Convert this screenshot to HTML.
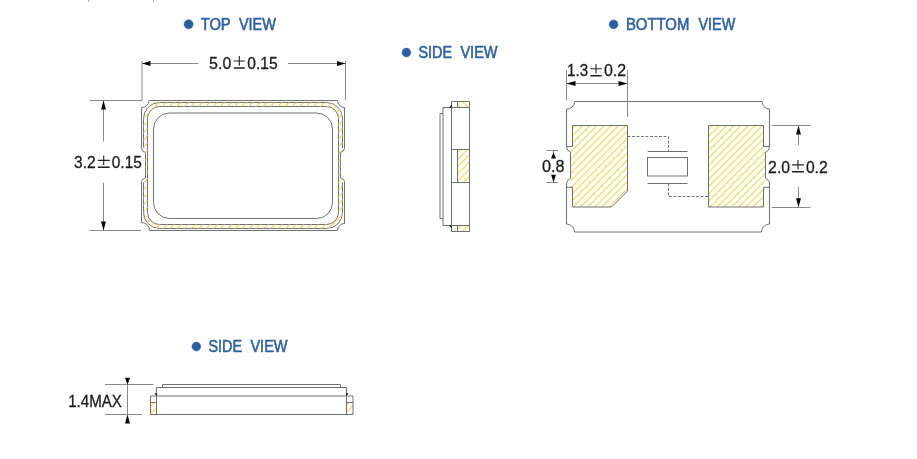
<!DOCTYPE html>
<html><head><meta charset="utf-8">
<style>
html,body{margin:0;padding:0;background:#fff;}
svg{display:block;will-change:transform;}
text{font-family:"Liberation Sans",sans-serif;}
</style></head><body>
<svg width="917" height="459" viewBox="0 0 917 459">
<defs>
<pattern id="h" patternUnits="userSpaceOnUse" width="5.091" height="20" patternTransform="rotate(45) translate(1.2 0)">
<rect x="-0.2" y="0" width="1.4" height="20" fill="#f3d650"/>
</pattern>
<pattern id="hs" patternUnits="userSpaceOnUse" width="5.091" height="20" patternTransform="rotate(45) translate(2.97 0)">
<rect x="-0.2" y="0" width="1.4" height="20" fill="#f3d650"/>
</pattern>
<pattern id="hb" patternUnits="userSpaceOnUse" width="5.091" height="20" patternTransform="rotate(-45) translate(0 0)">
<rect x="-0.2" y="0" width="1.4" height="20" fill="#f3d650"/>
</pattern>
<pattern id="hbot" patternUnits="userSpaceOnUse" width="5.091" height="20" patternTransform="rotate(45) translate(1.41 0)">
<rect x="-0.2" y="0" width="1.4" height="20" fill="#f3d650"/>
</pattern>
<clipPath id="cPkg">
<path d="M149 100.5 H337.5 A7 7 0 0 0 344.5 107.5 V148.2 Q344.5 151.5 340.5 152.5 V178 Q344.5 179 344.5 181.5 V223.5 A7 7 0 0 0 337.5 230.5 H149.5 A8 8 0 0 0 141.5 222.5 V181.5 Q141.5 179 145.5 178 V152.5 Q141.5 151.5 141.5 148.2 V107.5 A7.5 7 0 0 0 149 100.5 Z"/>
</clipPath>
<clipPath id="cBand">
<path fill-rule="evenodd" d="M159.5 102.5 H326.5 A16 16 0 0 1 342.5 118.5 V212.5 A16 16 0 0 1 326.5 228.5 H159.5 A16 16 0 0 1 143.5 212.5 V118.5 A16 16 0 0 1 159.5 102.5 Z M159.5 106.5 A12 12 0 0 0 147.5 118.5 V212.5 A12 12 0 0 0 159.5 224.5 H326.5 A12 12 0 0 0 338.5 212.5 V118.5 A12 12 0 0 0 326.5 106.5 Z"/>
</clipPath>
</defs>

<rect x="88" y="0" width="1" height="1.5" fill="#999"/><rect x="153" y="0" width="1" height="1.5" fill="#999"/>
<!-- ===== headings ===== -->
<g fill="#2a5fa8" stroke="#2a5fa8" stroke-width="0.55">
<circle cx="188.6" cy="24.3" r="4.5"/>
<text x="200.7" y="29.7" font-size="16" textLength="30" lengthAdjust="spacingAndGlyphs">TOP</text>
<text x="238.9" y="29.7" font-size="16" textLength="37.1" lengthAdjust="spacingAndGlyphs">VIEW</text>

<circle cx="406.4" cy="52.5" r="4.4"/>
<text x="418.4" y="58.2" font-size="16" textLength="33.6" lengthAdjust="spacingAndGlyphs">SIDE</text>
<text x="460.4" y="58.2" font-size="16" textLength="37.2" lengthAdjust="spacingAndGlyphs">VIEW</text>

<circle cx="613.6" cy="24.3" r="4.4"/>
<text x="625.9" y="29.7" font-size="16" textLength="63.5" lengthAdjust="spacingAndGlyphs">BOTTOM</text>
<text x="698.5" y="29.7" font-size="16" textLength="36.7" lengthAdjust="spacingAndGlyphs">VIEW</text>

<circle cx="196.3" cy="346.5" r="4.4"/>
<text x="208.4" y="352" font-size="16" textLength="33.6" lengthAdjust="spacingAndGlyphs">SIDE</text>
<text x="250.4" y="352" font-size="16" textLength="37.2" lengthAdjust="spacingAndGlyphs">VIEW</text>
</g>

<!-- ===== dimension texts ===== -->
<g fill="#1a1a1a" stroke="#1a1a1a" stroke-width="0.28">
<text x="209.1" y="68.6" font-size="16.3" textLength="22.2" lengthAdjust="spacingAndGlyphs">5.0</text>
<text x="247.3" y="68.6" font-size="16.3" textLength="30.4" lengthAdjust="spacingAndGlyphs">0.15</text>
<text x="74" y="168" font-size="16.3" textLength="21.6" lengthAdjust="spacingAndGlyphs">3.2</text>
<text x="111.8" y="168" font-size="16.3" textLength="30" lengthAdjust="spacingAndGlyphs">0.15</text>
<text x="567.1" y="76.4" font-size="16.3" textLength="21" lengthAdjust="spacingAndGlyphs">1.3</text>
<text x="603.9" y="76.4" font-size="16.3" textLength="22.2" lengthAdjust="spacingAndGlyphs">0.2</text>
<text x="541.9" y="172.4" font-size="16.3" textLength="22.6" lengthAdjust="spacingAndGlyphs">0.8</text>
<text x="768.1" y="172.5" font-size="16.3" textLength="22" lengthAdjust="spacingAndGlyphs">2.0</text>
<text x="805.9" y="172.5" font-size="16.3" textLength="21.8" lengthAdjust="spacingAndGlyphs">0.2</text>
<text x="68.2" y="406.8" font-size="16" textLength="53.7" lengthAdjust="spacingAndGlyphs">1.4MAX</text>
</g>
<g fill="none" stroke="#222">
<path stroke-width="1.1" d="M233.7 61 H244.8 M239.3 56.1 V65.7 M97.8 160.4 H109.7 M103.7 155.5 V165.1 M590.3 68.8 H601.7 M596 63.9 V73.5 M792.1 164.9 H803.9 M798 160 V169.6"/>
<path stroke-width="1.5" d="M233.7 67.9 H244.8 M97.8 167.3 H109.7 M590.3 75.7 H601.7 M792.1 171.8 H803.9"/>
</g>

<!-- ===== TOP VIEW ===== -->
<g fill="none" stroke="#707070" stroke-width="1">
<g stroke="#8a8a8a">
<!-- dimension 5.0 -->
<path d="M142 61 V100.5 H89.5 M345.5 61 V100"/>
<path d="M142 63.5 H198.5 M288 63.5 H345.5"/>
<!-- dimension 3.2 -->
<path d="M89.5 230.5 H141 M103.5 100.5 V141.6 M103.5 182.6 V230.5"/>
</g>
<!-- outer package outline -->
<path d="M149.5 100.5 H337.5 A7 7 0 0 0 344.5 107.5 V148.2 Q344.5 151.5 340.5 152.5 V178 Q344.5 179 344.5 181.5 V223.5 A7 7 0 0 0 337.5 230.5 H149.5 A8 8 0 0 0 141.5 222.5 V181.5 Q141.5 179 145.5 178 V152.5 Q141.5 151.5 141.5 148.2 V107.5 A7.5 7 0 0 0 149 100.5 Z"/>
<!-- band lines -->
<path d="M159.5 102.5 H326.5 A16 16 0 0 1 342.5 118.5 V148 M342.5 182 V212.5 A16 16 0 0 1 326.5 228.5 H159.5 A16 16 0 0 1 143.5 212.5 V182 M143.5 148 V118.5 A16 16 0 0 1 159.5 102.5"/>
<path d="M159.5 106.5 H326.5 A12 12 0 0 1 338.5 118.5 V212.5 A12 12 0 0 1 326.5 224.5 H159.5 A12 12 0 0 1 147.5 212.5 V118.5 A12 12 0 0 1 159.5 106.5 Z"/>
<!-- inner rect -->
<path d="M169.5 113 H316.5 A16 16 0 0 1 332.5 129 V202.5 A16 16 0 0 1 316.5 218.5 H169.5 A16 16 0 0 1 153.5 202.5 V129 A16 16 0 0 1 169.5 113 Z"/>
</g>
<g clip-path="url(#cPkg)"><rect x="140" y="100" width="206" height="132" fill="url(#h)" clip-path="url(#cBand)"/></g>
<g fill="#050505">
<path d="M142 63.5 L150.5 61.05 L150.5 65.95 Z"/>
<path d="M345.5 63.5 L337 61.05 L337 65.95 Z"/>
<path d="M103.5 100.5 L101.05 109.5 L105.95 109.5 Z"/>
<path d="M103.5 230.5 L101.05 221.5 L105.95 221.5 Z"/>
</g>

<!-- ===== SIDE VIEW (right) ===== -->
<rect x="457.5" y="101.5" width="12" height="6" fill="url(#hb)"/>
<rect x="457.5" y="149.5" width="12" height="33" fill="url(#hs)"/>
<rect x="457.5" y="225.5" width="12" height="6" fill="url(#hbot)"/>
<g fill="none" stroke="#707070" stroke-width="1">
<path d="M451.5 101.5 H469.5 V231.5 H451.5 Z M451.5 107.5 H443 V225.5 H469.5 M451.5 107.5 H469.5 M457.5 101.5 V107.5 M457.5 225.5 V231.5"/>
<path d="M443 113.5 H440 V218.5 H443"/>
<path d="M451.5 149.5 H469.5 M451.5 182.5 H469.5 M457.5 149.5 V182.5"/>
</g>

<g fill="#050505">
<path d="M451.8 107.5 L449 107.8 L451.8 104.8 Z"/>
<path d="M451.8 225.5 L449 225.2 L451.8 228.2 Z"/>
</g>
<!-- ===== BOTTOM VIEW ===== -->
<defs>
<clipPath id="cPadL"><path d="M572.5 125.5 H627.5 V191 L611.5 207 H572.5 V187.3 H570.5 V146.5 H572.5 Z"/></clipPath>
<clipPath id="cPadR"><path d="M708.5 125.5 H763.5 V146.5 H765.5 V187.3 H763.5 V207 H708.5 Z"/></clipPath>
</defs>
<rect x="565" y="120" width="70" height="90" fill="url(#h)" clip-path="url(#cPadL)"/>
<rect x="705" y="120" width="70" height="90" fill="url(#h)" clip-path="url(#cPadR)"/>
<g fill="none" stroke="#707070" stroke-width="1">
<!-- package -->
<path d="M574.5 101.5 H762 A7.5 7.5 0 0 0 769.5 109 V146.5 Q769.5 151 765.5 152.5 V178.5 Q769.5 180 769.5 182.5 V224 A8 8 0 0 0 761.5 232 H574.5 A8 8 0 0 0 566.5 224 V184 Q566.5 180 570.5 178.5 V152 Q566.5 151 566.5 146.5 V109 A7.5 7.5 0 0 0 574.5 101.5 Z"/>
<!-- pads -->
<path d="M566.5 146.5 H572.5 V125.5 H627.5 V191 L611.5 207 H572.5 V187.3 H566.5"/>
<path d="M769.5 146.5 H763.5 V125.5 H708.5 V207 H763.5 V187.3 H769.5"/>
<!-- crystal -->
<path d="M647.7 151.5 H687.5 M647.7 183.5 H687.5"/>
<rect x="647.5" y="157.5" width="40" height="18.5"/>
<g stroke="#8a8a8a">
<!-- dim 1.3 -->
<path d="M566.5 70 V100.5 M627.5 70 V117 M566.5 83.5 H627.5"/>
<!-- dim 0.8 -->
<path d="M546.5 150.5 H558 M546.5 182.5 H558 M553.5 150.5 V158 M553.5 175 V182.5"/>
<!-- dim 2.0 -->
<path d="M771.5 125.5 H810.5 M771.5 207.5 H810.5 M798.5 125.5 V145 M798.5 187 V207"/>
</g>
</g>
<g fill="none" stroke="#707070" stroke-width="1" stroke-dasharray="2.9 1.6">
<path d="M627.5 136.5 H668.5 V151"/>
<path d="M668.5 183.5 V196.5 H708"/>
</g>
<g fill="#050505">
<path d="M566.5 83.5 L575.5 81.05 L575.5 85.95 Z"/>
<path d="M627.5 83.5 L618.5 81.05 L618.5 85.95 Z"/>
<path d="M553.5 152.3 L551.05 158.5 L555.95 158.5 Z"/>
<path d="M553.5 182.3 L551.05 174.8 L555.95 174.8 Z"/>
<path d="M798.5 125.5 L796.05 134.5 L800.95 134.5 Z"/>
<path d="M798.5 207.3 L796.05 198.3 L800.95 198.3 Z"/>
</g>

<!-- ===== SIDE VIEW (bottom) ===== -->
<rect x="150" y="402" width="6.5" height="12.5" fill="url(#h)"/>
<rect x="346.5" y="402" width="6.5" height="12.5" fill="url(#h)"/>
<g fill="none" stroke="#707070" stroke-width="1">
<path stroke="#8a8a8a" d="M105 384.5 H153.5 M105 414.5 H142 M127.5 384.5 V414.5"/>
<path d="M150.5 396 H353 V414.5 H150.5 Z M156.5 396 V387.5 H346.5 V396 M162.5 387.5 V384.5 H340.5 V387.5 M150.5 402.5 H156.5 M346.5 402.5 H353 M156.5 396 V414.5 M346.5 396 V414.5"/>
</g>
<g fill="#050505">
<path d="M127.5 384.8 L125.05 377.8 L129.95 377.8 Z"/>
<path d="M127.5 414.3 L125.05 423.5 L129.95 423.5 Z"/>
<path d="M156.5 396 L154.5 393 L157 393.5 Z"/>
<path d="M346.5 396 L348.5 393 L346 393.5 Z"/>
</g>
</svg>
</body></html>
